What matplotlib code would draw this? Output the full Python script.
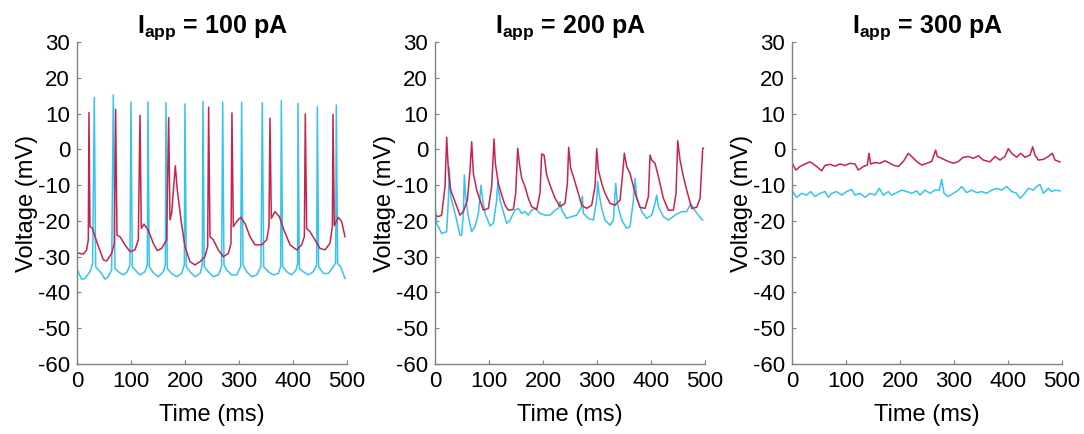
import matplotlib
matplotlib.use("Agg")
import matplotlib.pyplot as plt

plt.rcParams['font.family'] = ['Liberation Sans', 'DejaVu Sans']
plt.rcParams['axes.unicode_minus'] = False
plt.rcParams['mathtext.fontset'] = 'custom'
plt.rcParams['mathtext.rm'] = 'Liberation Sans'
plt.rcParams['mathtext.bf'] = 'Liberation Sans:bold'

# Membrane voltage traces: (time ms, voltage mV)
red_100_t = [0, 11.7, 17.9, 21.0, 22.2, 24.1, 29.0, 33.3, 48.8, 54.9, 64.2, 69.1, 71.6, 74.1, 79.6, 88.9,
             98.2, 107.4, 113.6, 116.7, 119.1, 124.1, 132.1, 141.4, 148.8, 156.8, 166.0, 169.8, 172.2,
             175.3, 182.1, 185.8, 192.6, 200.0, 209.3, 218.5, 227.8, 237.0, 242.0, 243.8, 246.3, 252.5,
             261.7, 271.0, 280.3, 285.2, 287.0, 289.5, 295.7, 303.1, 311.1, 320.4, 329.6, 342.0, 351.2,
             355.6, 357.4, 359.9, 366.7, 374.7, 382.1, 394.5, 406.8, 416.1, 421.0, 422.8, 425.3, 431.5,
             440.7, 450.0, 459.2, 468.5, 472.9, 474.1, 476.5, 483.9, 490.1, 496.3]
red_100_v = [-28.9, -29.3, -28.1, -25.3, 10.3, -21.6, -22.1, -24.4, -30.9, -31.2, -29.1, -26.3, 11.2, -24.0,
             -24.4, -26.7, -28.6, -28.1, -25.3, 9.5, -22.1, -20.9, -22.6, -26.3, -28.3, -27.7, -25.3, 8.85,
             -19.7, -17.9, -4.6, -11.4, -19.7, -27.2, -31.4, -32.3, -31.4, -30.0, -27.2, 11.8, -24.4, -25.3,
             -28.1, -30.0, -29.1, -26.3, 10.2, -21.6, -20.2, -19.0, -20.7, -24.4, -26.7, -26.7, -25.3,
             -21.6, 8.7, -19.3, -17.4, -18.8, -22.1, -26.7, -28.1, -26.7, -24.4, 9.9, -22.1, -23.0,
             -25.3, -27.7, -28.1, -26.3, -21.6, 9.8, -21.3, -19.0, -20.2, -24.4]

blue_100_t = [0.6, 8.6, 14.8, 24.1, 29.0, 32.1, 34.6, 39.5, 45.7, 51.9, 58.0, 64.2, 67.3, 70.4, 76.5, 85.8,
              93.2, 98.1, 100.0, 102.5, 107.4, 116.7, 125.9, 130.2, 131.5, 133.9, 141.4, 150.6, 159.9,
              163.6, 164.8, 167.3, 175.3, 184.6, 193.8, 198.8, 200.0, 202.5, 209.3, 218.5, 227.8, 232.1,
              233.3, 235.8, 243.2, 252.5, 261.7, 267.9, 269.8, 272.2, 277.2, 286.4, 295.7, 303.1, 304.9,
              307.4, 314.2, 323.5, 332.7, 340.7, 343.2, 345.7, 354.3, 363.6, 372.9, 377.2, 378.4, 380.9,
              388.3, 397.5, 405.6, 408.6, 409.3, 411.7, 419.1, 428.4, 437.7, 443.8, 445.1, 447.5, 456.2,
              465.4, 474.7, 479.0, 480.2, 482.7, 488.3, 496.3]
blue_100_v = [-33.7, -36.3, -36.1, -34.2, -31.9, 14.5, -32.8, -33.7, -34.7, -36.3, -35.6, -33.7, 15.2, -33.3,
              -34.2, -35.1, -34.2, -32.3, 13.2, -32.8, -33.7, -35.1, -34.2, -32.3, 13.2, -32.8, -34.5, -35.6,
              -34.2, -32.3, 13.0, -33.3, -34.7, -35.6, -34.7, -32.3, 12.7, -32.8, -34.2, -35.6, -34.7, -32.3,
              13.4, -32.8, -34.2, -35.6, -35.1, -32.8, 13.2, -32.3, -33.7, -35.1, -35.1, -32.8, 13.2, -32.3,
              -34.2, -35.6, -35.1, -32.8, 13.0, -32.8, -34.2, -35.1, -34.7, -32.8, 13.6, -32.8, -34.2,
              -35.1, -33.7, -31.9, 12.8, -33.3, -34.2, -35.1, -34.2, -32.3, 11.9, -32.8, -34.7, -34.7,
              -32.8, -31.7, 12.4, -31.9, -32.8, -36.1]

red_200_t = [0, 6.2, 12.3, 18.5, 21.6, 24.7, 29.0, 37.0, 46.3, 52.5, 59.9, 64.8, 67.9, 71.0, 77.2, 83.3,
             89.5, 98.8, 104.9, 109.3, 111.7, 117.3, 123.5, 129.6, 135.8, 145.1, 149.4, 153.1, 156.2,
             160.5, 166.7, 172.8, 179.0, 188.3, 194.4, 197.5, 201.9, 206.8, 213.0, 222.2, 231.5, 240.7,
             245.1, 247.5, 251.2, 256.2, 265.4, 271.6, 280.9, 290.1, 296.3, 299.4, 302.5, 308.6, 314.8,
             324.1, 333.3, 342.6, 347.5, 350.6, 354.9, 361.1, 367.3, 373.5, 379.6, 388.9, 395.1, 398.2,
             401.2, 407.4, 413.6, 422.9, 432.1, 441.4, 446.3, 449.4, 453.7, 459.9, 466.1, 475.3, 484.6,
             490.8, 495.7, 496.9]
red_200_v = [-18.4, -18.8, -18.4, -10.4, 3.4, -5.8, -11.4, -14.6, -18.4, -17.4, -14.2, -5.8, 2.1, -6.7,
             -11.4, -14.2, -17.0, -16.5, -10.4, 2.9, -3.9, -9.5, -12.8, -15.6, -17.0, -16.8, -12.3, 0.3,
             -3.9, -8.1, -10.4, -13.7, -16.0, -16.8, -12.3, -1.3, -1.6, -7.2, -10.0, -13.7, -16.0, -15.1,
             -9.5, 0.6, -5.3, -7.6, -12.3, -15.6, -16.5, -15.6, -10.4, 0.2, -5.8, -9.5, -12.3, -15.1,
             -15.6, -14.2, -6.7, -1.1, -4.8, -6.7, -10.4, -13.7, -16.2, -16.5, -13.2, -1.6, -3.0, -3.9,
             -7.6, -13.7, -17.0, -17.0, -12.3, 2.4, -3.0, -7.6, -11.4, -16.5, -16.2, -13.7, 0.3, 0.3]

blue_200_t = [0, 3.1, 12.3, 21.6, 24.7, 26.5, 29.0, 33.9, 40.1, 46.3, 49.4, 52.5, 54.3, 56.8, 61.7, 67.9,
              74.1, 80.3, 83.3, 85.2, 88.3, 92.6, 101.9, 108.0, 114.2, 116.1, 120.4, 126.5, 132.7, 138.9,
              148.1, 154.3, 160.5, 166.7, 172.8, 179.0, 185.2, 194.4, 203.7, 213.0, 222.2, 228.4, 231.5,
              234.6, 243.8, 253.1, 262.3, 271.6, 272.9, 274.7, 284.0, 293.2, 299.4, 301.2, 303.7, 308.6,
              314.8, 324.1, 330.3, 334.6, 337.7, 345.7, 355.0, 361.1, 367.3, 370.4, 373.5, 382.7, 392.0,
              401.2, 407.4, 410.5, 413.6, 422.9, 432.1, 444.5, 456.8, 466.1, 473.5, 478.4, 487.7, 495.7]
blue_200_v = [-15.1, -20.7, -23.5, -23.0, -14.2, -5.0, -13.2, -16.0, -19.8, -24.0, -24.0, -17.9, -7.2,
              -13.2, -18.8, -23.0, -21.6, -17.9, -13.2, -10.0, -14.2, -17.9, -21.4, -20.7, -14.2, -9.3,
              -14.2, -17.4, -20.7, -19.8, -17.0, -16.5, -17.9, -17.4, -18.4, -17.0, -16.5, -17.9, -18.4,
              -18.4, -17.0, -16.5, -14.6, -17.0, -19.3, -18.8, -18.4, -16.0, -13.2, -17.9, -19.3, -19.8,
              -14.2, -9.0, -12.3, -16.5, -19.8, -21.2, -19.8, -9.5, -15.1, -19.8, -22.1, -21.6, -14.2,
              -8.1, -13.2, -17.4, -19.3, -18.4, -15.1, -12.8, -16.0, -18.8, -19.8, -18.4, -17.4, -17.4,
              -15.1, -16.5, -18.4, -19.8]

red_300_t = [1.2, 7.4, 14.8, 24.1, 33.3, 39.5, 45.7, 55.0, 61.1, 70.4, 79.6, 88.9, 98.2, 107.4, 116.7,
             122.8, 132.1, 139.5, 142.6, 145.7, 153.7, 163.0, 172.2, 181.5, 188.9, 196.9, 206.2, 215.4,
             221.6, 230.9, 240.1, 249.4, 258.7, 266.1, 269.1, 277.2, 286.4, 298.8, 308.0, 317.3, 326.6,
             335.8, 345.1, 354.3, 366.7, 375.9, 385.2, 394.5, 400.6, 406.8, 416.1, 423.5, 431.5, 440.8,
             445.7, 450.0, 456.2, 465.4, 474.7, 482.1, 487.1, 496.3]
red_300_v = [-4.1, -5.8, -4.8, -4.1, -3.5, -4.1, -4.8, -6.0, -4.5, -4.2, -4.7, -4.1, -4.5, -3.9, -4.1,
             -5.8, -4.8, -4.4, -1.1, -4.1, -3.7, -3.9, -3.2, -3.9, -4.5, -4.8, -3.4, -1.1, -2.0, -3.4,
             -4.4, -3.9, -3.4, -0.2, -2.0, -2.5, -3.2, -3.9, -3.4, -2.2, -2.0, -2.5, -1.8, -3.0, -3.5,
             -2.0, -3.0, -2.0, 0.2, -1.1, -2.2, -1.1, -2.2, -1.6, 0.7, -1.6, -3.0, -2.8, -2.0, -1.1,
             -3.0, -3.5]

blue_300_t = [1.2, 8.6, 17.9, 27.2, 34.6, 42.6, 51.9, 61.1, 67.3, 73.5, 82.7, 92.0, 101.2, 110.5, 116.7,
              125.9, 135.2, 144.5, 153.7, 161.7, 169.1, 178.4, 184.6, 193.8, 203.1, 212.4, 221.6, 230.9,
              237.0, 246.3, 255.6, 264.8, 272.9, 277.2, 281.5, 289.5, 298.8, 308.0, 314.2, 323.5, 332.7,
              342.0, 351.2, 360.5, 369.8, 379.0, 388.3, 397.5, 406.8, 416.1, 422.2, 428.4, 437.7, 446.9,
              453.1, 459.3, 465.4, 474.7, 480.9, 487.1, 496.3]
blue_300_v = [-11.8, -13.4, -12.3, -12.8, -11.8, -13.2, -12.3, -11.8, -13.4, -12.3, -11.8, -12.8, -11.8,
              -11.2, -12.8, -12.3, -13.4, -12.3, -12.8, -10.9, -12.8, -11.8, -12.8, -12.1, -11.4, -11.8,
              -12.3, -11.6, -12.8, -11.4, -12.3, -11.4, -11.4, -8.4, -12.3, -13.2, -12.3, -11.4, -10.4,
              -12.1, -11.4, -12.1, -11.8, -12.3, -11.4, -10.9, -11.4, -10.4, -11.8, -12.3, -13.7, -12.8,
              -10.9, -11.4, -10.4, -9.8, -12.3, -10.9, -11.8, -11.4, -11.6]

currents = [100, 200, 300]
panels = [
    (blue_100_t, blue_100_v, red_100_t, red_100_v),
    (blue_200_t, blue_200_v, red_200_t, red_200_v),
    (blue_300_t, blue_300_v, red_300_t, red_300_v),
]

red = '#c8234c'
blue = '#35c3f0'
spine_col = '#808080'

fig = plt.figure(figsize=(10.84, 4.34), dpi=100)
lefts = [0.0710, 0.4013, 0.7306]

for left, cur, (bt, bv, rt, rv) in zip(lefts, currents, panels):
    ax = fig.add_axes([left, 0.1613, 0.2491, 0.7419])
    ax.plot(bt, bv, color=blue, lw=1.1)
    ax.plot(rt, rv, color=red, lw=1.1)
    ax.set_xlim(0, 500)
    ax.set_ylim(-60, 30)
    ax.set_xticks(range(0, 501, 100))
    ax.set_yticks(range(-60, 31, 10))
    for s in ['top', 'right']:
        ax.spines[s].set_visible(False)
    for s in ['left', 'bottom']:
        ax.spines[s].set_color(spine_col)
        ax.spines[s].set_linewidth(1.0)
    ax.tick_params(direction='in', length=3, color=spine_col, labelsize=16, pad=5)
    ax.set_xlabel('Time (ms)', fontsize=17, labelpad=9)
    ax.set_ylabel('Voltage (mV)', fontsize=17, labelpad=0)
    ax.set_title(r'$\mathbf{I_{app}}$' + ' = %d pA' % cur, fontsize=18, fontweight='bold', pad=6)

fig.savefig('out.png', dpi=100)
